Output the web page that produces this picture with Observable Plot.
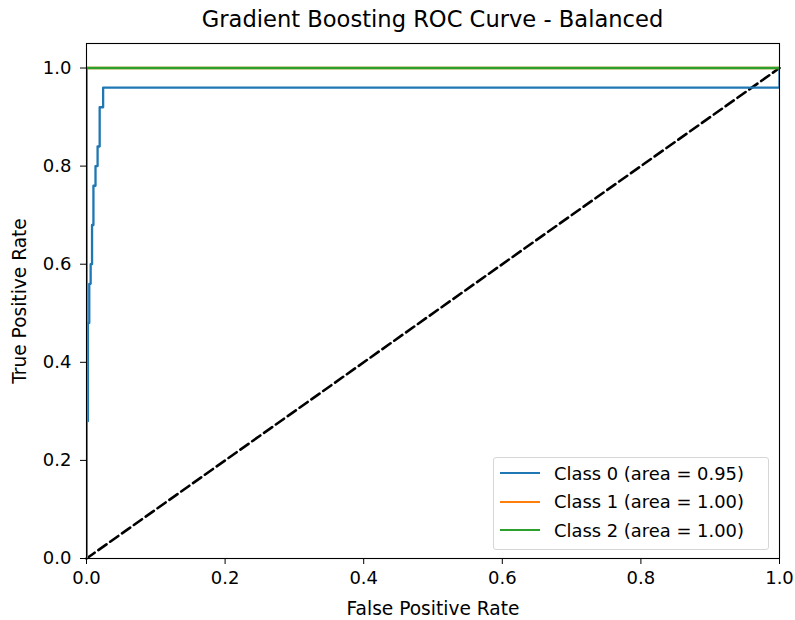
<!DOCTYPE html>
<html>
<head>
<meta charset="utf-8">
<script src="https://cdn.jsdelivr.net/npm/d3@7"></script>
<script src="https://cdn.jsdelivr.net/npm/@observablehq/plot@0.6"></script>
<style>
  body { margin: 0; background: #fff; font-family: "DejaVu Sans", sans-serif; }
  #wrap { position: relative; width: 795px; height: 620px; }
  #wrap svg text { font-size: 18px; fill: #000; }
  #wrap svg g[aria-label="x-axis label"] text, #wrap svg g[aria-label="y-axis label"] text { font-size: 18.6px; }
  #title { position: absolute; left: 86px; width: 693px; top: 5px; text-align: center;
    font-size: 22.6px; line-height: 28px; color: #000; }
  #legend { position: absolute; left: 493px; top: 457px; width: 276px; height: 93px;
    border: 1px solid #d6d6d6; border-radius: 3px; background: rgba(255,255,255,0.8);
    box-sizing: border-box; padding: 1px 0 0 0; }
  .row { display: flex; align-items: center; height: 28.5px; font-size: 17.9px; color: #000; white-space: nowrap; }
  .sw { width: 40px; height: 0; border-top: 2.5px solid; margin: 0 14px 0 6px; }
</style>
</head>
<body>
<div id="wrap"></div>
<script>
const title = "Gradient Boosting ROC Curve - Balanced";
const xLabel = "False Positive Rate";
const yLabel = "True Positive Rate";
const ticks = [0, 0.2, 0.4, 0.6, 0.8, 1.0];
const classNames = ["Class 0", "Class 1", "Class 2"];
const areas = ["0.95", "1.00", "1.00"];
const colors = ["#1f77b4", "#ff7f0e", "#2ca02c"];

const fpr0 = [0, 0, 0.002, 0.002, 0.004, 0.004, 0.006, 0.006, 0.008, 0.008, 0.010, 0.010, 0.013, 0.013, 0.016, 0.016, 0.019, 0.019, 0.024, 0.024, 1, 1];
const tpr0 = [0, 0.28, 0.28, 0.48, 0.48, 0.56, 0.56, 0.60, 0.60, 0.68, 0.68, 0.76, 0.76, 0.80, 0.80, 0.84, 0.84, 0.92, 0.92, 0.96, 0.96, 1];
const fpr1 = [0, 0, 1];
const tpr1 = [0, 1, 1];
const fpr2 = [0, 0, 1];
const tpr2 = [0, 1, 1];
const diagX = [0, 1];
const diagY = [0, 1];

const curves = [[fpr0, tpr0], [fpr1, tpr1], [fpr2, tpr2]];
const rows = [];
curves.forEach(([f, t], i) => f.forEach((x, j) => rows.push({x, y: t[j], c: i})));
const diag = diagX.map((x, i) => ({x, y: diagY[i]}));

const fmt = d3.format(".1f");
const chart = Plot.plot({
  width: 795, height: 620,
  marginLeft: 86, marginRight: 16, marginTop: 43, marginBottom: 62,
  style: { fontFamily: "DejaVu Sans, sans-serif", color: "#000", background: "#fff" },
  x: { domain: [0, 1] },
  y: { domain: [0, 1.05] },
  marks: [
    Plot.axisX({ ticks, tickFormat: fmt, tickSize: 6, tickPadding: 7, label: xLabel, labelAnchor: "center", labelArrow: "none", labelOffset: 56 }),
    Plot.axisY({ ticks, tickFormat: fmt, tickSize: 6, tickPadding: 9, label: yLabel, labelAnchor: "center", labelArrow: "none", labelOffset: 74 }),
    Plot.line(diag, { x: "x", y: "y", stroke: "#000", strokeWidth: 2.6, strokeDasharray: "10,4.5" }),
    ...[0, 1, 2].map(i => Plot.line(rows.filter(r => r.c === i), { x: "x", y: "y", stroke: colors[i], strokeWidth: 2.3, clip: true })),
    Plot.frame({ stroke: "#000", strokeWidth: 1.1 })
  ]
});
const wrap = document.getElementById("wrap");
wrap.appendChild(chart);

const tt = document.createElement("div");
tt.id = "title";
tt.textContent = title;
wrap.appendChild(tt);

const leg = document.createElement("div");
leg.id = "legend";
classNames.forEach((n, i) => {
  const r = document.createElement("div");
  r.className = "row";
  const s = document.createElement("div");
  s.className = "sw";
  s.style.borderTopColor = colors[i];
  const t = document.createElement("span");
  t.textContent = `${n} (area = ${areas[i]})`;
  r.appendChild(s); r.appendChild(t);
  leg.appendChild(r);
});
wrap.appendChild(leg);
</script>
</body>
</html>
